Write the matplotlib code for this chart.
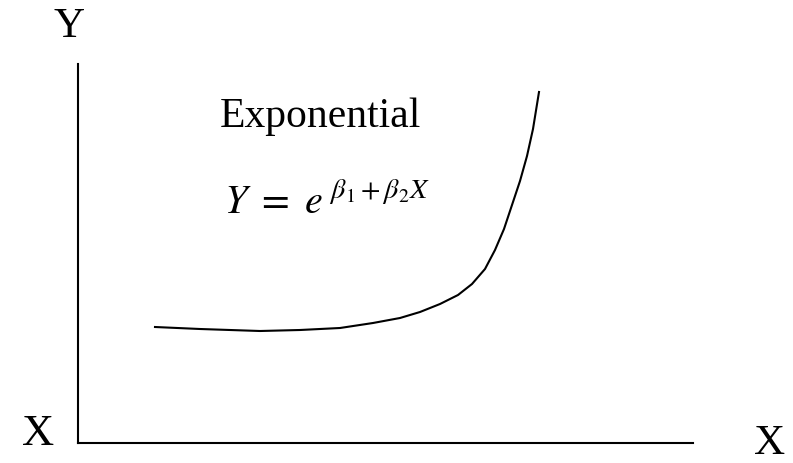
import matplotlib.pyplot as plt

plt.rcParams['font.family'] = 'Liberation Serif'
plt.rcParams['mathtext.fontset'] = 'stix'

curve_x = [155, 200, 260, 300, 340, 373, 400, 420, 440, 458, 472, 485, 495, 504, 512, 520, 527, 533, 539]
curve_y = [328, 330, 332, 331, 329, 324, 319, 313, 305, 296, 285, 270, 251, 230, 206, 182, 157, 130, 93]

title = 'Exponential'
formula = r'$Y\ =\ e^{\;\beta_1+\beta_2 X}$'

fig = plt.figure(figsize=(7.93, 4.64), dpi=100)
ax = fig.add_axes([78 / 793, 20 / 464, 615 / 793, 379 / 464])
ax.plot(curve_x, curve_y, color='black', lw=1.5)
ax.set_xlim(78, 693)
ax.set_ylim(444, 65)
ax.spines['top'].set_visible(False)
ax.spines['right'].set_visible(False)
ax.spines['left'].set_linewidth(1.5)
ax.spines['bottom'].set_linewidth(1.5)
ax.set_xticks([])
ax.set_yticks([])

fig.text(69 / 793, 1 - 37 / 464, 'Y', fontsize=31, ha='center', va='baseline')
fig.text(38 / 793, 1 - 445 / 464, 'X', fontsize=32, ha='center', va='baseline')
fig.text(770 / 793, 1 - 454 / 464, 'X', fontsize=31, ha='center', va='baseline')
fig.text(320 / 793, 1 - 127 / 464, title, fontsize=30, ha='center', va='baseline')
fig.text(224 / 793, 1 - 213 / 464, formula, fontsize=29, ha='left', va='baseline')

plt.savefig('out.png', dpi=100)
